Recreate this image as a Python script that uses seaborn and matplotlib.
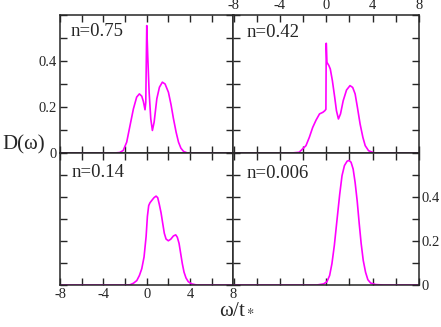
import matplotlib
matplotlib.use("Agg")
import matplotlib.pyplot as plt
import seaborn as sns
from matplotlib.ticker import MultipleLocator

# spectral function D(w) for four fillings
w_075 = [-8.0, -3.0, -2.5, -2.17, -1.85, -1.54, -1.23, -0.93, -0.68, -0.46, -0.31, -0.16,
         -0.09, 0.0, 0.09, 0.22, 0.37, 0.52, 0.68, 0.93, 1.17, 1.44, 1.69, 2.0, 2.24,
         2.46, 2.71, 2.93, 3.15, 3.39, 3.7, 4.2, 8.0]
d_075 = [0.0, 0.0, 0.002, 0.011, 0.047, 0.12, 0.192, 0.243, 0.257, 0.247, 0.224, 0.188,
         0.22, 0.554, 0.424, 0.264, 0.149, 0.098, 0.134, 0.236, 0.286, 0.308, 0.30, 0.264, 0.21,
         0.15, 0.09, 0.047, 0.021, 0.007, 0.001, 0.0, 0.0]

w_042 = [-8.0, -3.0, -2.34, -1.75, -1.46, -1.17, -0.88, -0.58, -0.29, -0.12, -0.03, 0.0,
         0.06, 0.23, 0.35, 0.53, 0.73, 0.88, 1.05, 1.23, 1.46, 1.75, 2.05, 2.28, 2.49,
         2.69, 2.92, 3.16, 3.36, 3.65, 4.09, 4.6, 8.0]
d_042 = [0.0, 0.0, 0.003, 0.032, 0.068, 0.111, 0.143, 0.17, 0.177, 0.184, 0.19, 0.477,
         0.394, 0.38, 0.365, 0.314, 0.242, 0.184, 0.148, 0.17, 0.227, 0.274, 0.293, 0.285, 0.257,
         0.198, 0.126, 0.068, 0.032, 0.01, 0.001, 0.0, 0.0]

w_014 = [-8.0, -2.0, -1.54, -1.23, -0.92, -0.68, -0.46, -0.25, -0.06, 0.06, 0.18, 0.3,
         0.49, 0.67, 0.86, 1.01, 1.16, 1.32, 1.47, 1.62, 1.78, 1.99, 2.21, 2.46, 2.67,
         2.82, 2.98, 3.13, 3.28, 3.44, 3.62, 3.83, 4.15, 4.61, 8.0]
d_014 = [0.0, 0.0, 0.001, 0.008, 0.02, 0.043, 0.074, 0.127, 0.22, 0.312, 0.361, 0.374,
         0.386, 0.397, 0.404, 0.397, 0.366, 0.328, 0.281, 0.235, 0.209, 0.201, 0.208, 0.223, 0.228,
         0.217, 0.189, 0.143, 0.097, 0.058, 0.032, 0.015, 0.005, 0.0, 0.0]

w_0006 = [-8.0, -0.81, -0.23, 0.06, 0.29, 0.49, 0.7, 0.93, 1.16, 1.36, 1.57, 1.8, 1.97,
          2.14, 2.32, 2.49, 2.67, 2.84, 3.01, 3.19, 3.39, 3.59, 3.83, 4.26, 4.98, 8.0]
d_0006 = [0.0, 0.0, 0.005, 0.015, 0.043, 0.097, 0.181, 0.297, 0.412, 0.497, 0.543, 0.563, 0.566,
          0.558, 0.527, 0.466, 0.381, 0.281, 0.189, 0.112, 0.058, 0.024, 0.009, 0.002, 0.0, 0.0]

labels = ["n=0.75", "n=0.42", "n=0.14", "n=0.006"]
xticks = [-8, -4, 0, 4, 8]
xtick_labels = ["-8", "-4", "0", "4", "8"]
yticks = [0, 0.2, 0.4]
ytick_labels = ["0", "0.2", "0.4"]

sns.set_style("ticks")
plt.rcParams['font.family'] = ['Liberation Serif', 'DejaVu Serif']
plt.rcParams['mathtext.fontset'] = 'stix'
plt.rcParams['axes.unicode_minus'] = False
plt.rcParams['axes.linewidth'] = 1.1

fig = plt.figure(figsize=(4.41, 3.27), dpi=100)
L, M, R = 60/441, 233.5/441, 419/441
T, Mid, B = 1-15/327, 1-153/327, 1-285/327

ax_tl = fig.add_axes([L, Mid, M-L, T-Mid])
ax_tr = fig.add_axes([M, Mid, R-M, T-Mid])
ax_bl = fig.add_axes([L, B, M-L, Mid-B])
ax_br = fig.add_axes([M, B, R-M, Mid-B])

panels = [(ax_tl, w_075, d_075), (ax_tr, w_042, d_042),
          (ax_bl, w_014, d_014), (ax_br, w_0006, d_0006)]
text_pos = [(0.058, 0.877), (0.071, 0.87), (0.069, 0.85), (0.071, 0.846)]

for i, (ax, w, d) in enumerate(panels):
    sns.lineplot(x=w, y=d, ax=ax, color='#ff00ff', lw=1.2, estimator=None)
    ax.set_xlim(-8, 8)
    ax.set_ylim(0, 0.6)
    ax.set_xticks(xticks)
    ax.set_xticklabels(xtick_labels)
    ax.set_yticks(yticks)
    ax.set_yticklabels(ytick_labels)
    ax.xaxis.set_minor_locator(MultipleLocator(2))
    ax.yaxis.set_minor_locator(MultipleLocator(0.1))
    ax.tick_params(which='both', direction='in', top=True, right=True,
                   bottom=True, left=True, length=5, width=1, labelsize=10.5, pad=2,
                   labelbottom=False, labeltop=False, labelleft=False, labelright=False)
    ax.set_xlabel('')
    ax.set_ylabel('')
    ax.text(text_pos[i][0], text_pos[i][1], labels[i], transform=ax.transAxes,
            fontsize=13.5, va='center', ha='left')

ax_tl.tick_params(labelleft=True)
ax_tr.tick_params(labeltop=True)
ax_bl.tick_params(labelbottom=True)
ax_br.tick_params(labelright=True)

fig.text(2/441, 1-145/327, 'D(ω)', fontsize=15, va='center', ha='left')
fig.text(237/441, 1-309/327, r'ω/t$_*$', fontsize=15, va='center', ha='center')

fig.savefig("out.png", dpi=100)
